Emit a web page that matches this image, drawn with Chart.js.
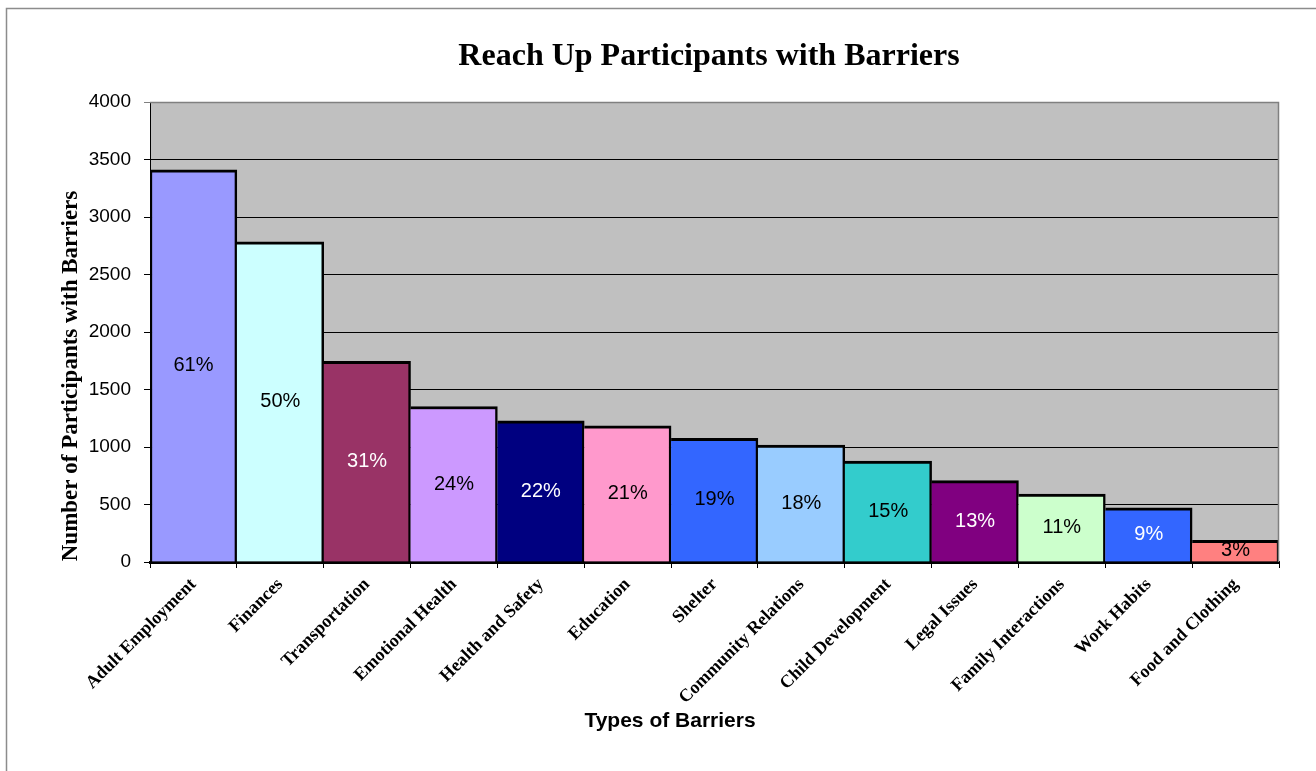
<!DOCTYPE html>
<html>
<head>
<meta charset="utf-8">
<title>Reach Up Participants with Barriers</title>
<script src="https://cdn.jsdelivr.net/npm/chart.js@4/dist/chart.umd.min.js"></script>
<style>
  html, body { margin: 0; padding: 0; background: #ffffff; }
  #wrap { width: 1316px; height: 771px; position: relative; }
</style>
</head>
<body>
<div id="wrap"><canvas id="chart" width="1316" height="771"></canvas></div>
<script>
// Barrier categories and participant counts
const categories = [
  'Adult Employment', 'Finances', 'Transportation', 'Emotional Health',
  'Health and Safety', 'Education', 'Shelter', 'Community Relations',
  'Child Development', 'Legal Issues', 'Family Interactions', 'Work Habits',
  'Food and Clothing'
];
const participants = [3410, 2784, 1746, 1352, 1227, 1184, 1075, 1016, 877, 708, 590, 470, 188];
const percentLabels = ['61%', '50%', '31%', '24%', '22%', '21%', '19%', '18%', '15%', '13%', '11%', '9%', '3%'];
const yTickValues = [0, 500, 1000, 1500, 2000, 2500, 3000, 3500, 4000];

// Bar fills and the label colour used on each
const barColors = ['#9999FF', '#CCFFFF', '#993366', '#CC99FF', '#000080', '#FF99CC',
                   '#3366FF', '#99CCFF', '#33CCCC', '#800080', '#CCFFCC', '#3366FF', '#FF8080'];
const labelColors = ['#000', '#000', '#fff', '#000', '#fff', '#000',
                     '#000', '#000', '#000', '#fff', '#000', '#fff', '#000'];

const titleText = 'Reach Up Participants with Barriers';
const yTitleText = 'Number of Participants with Barriers';
const xTitleText = 'Types of Barriers';

// Page frame, plot background and plot borders
const framePlugin = {
  id: 'frame',
  beforeDraw(chart) {
    const ctx = chart.ctx;
    const a = chart.chartArea;
    ctx.save();
    ctx.fillStyle = '#ffffff';
    ctx.fillRect(0, 0, chart.width, chart.height);
    ctx.strokeStyle = '#8c8c8c';
    ctx.lineWidth = 1.5;
    ctx.strokeRect(6.5, 8.5, chart.width + 50, chart.height + 50);
    ctx.fillStyle = '#C0C0C0';
    ctx.fillRect(a.left, a.top, a.right - a.left, a.bottom - a.top);
    ctx.restore();
  },
  afterDraw(chart) {
    const ctx = chart.ctx;
    const a = chart.chartArea;
    ctx.save();
    // top and right edges of the plot area
    ctx.strokeStyle = '#808080';
    ctx.lineWidth = 1.5;
    ctx.beginPath();
    ctx.moveTo(a.left, a.top + 0.5);
    ctx.lineTo(a.right - 0.5, a.top + 0.5);
    ctx.lineTo(a.right - 0.5, a.bottom);
    ctx.stroke();

    // chart title
    ctx.fillStyle = '#000';
    ctx.textAlign = 'center';
    ctx.textBaseline = 'middle';
    ctx.font = 'bold 32px "Liberation Serif", "Times New Roman", serif';
    ctx.fillText(titleText, 709, 57);

    // y axis title
    ctx.save();
    ctx.translate(71, 376);
    ctx.rotate(-Math.PI / 2);
    ctx.font = 'bold 23px "Liberation Serif", "Times New Roman", serif';
    ctx.fillText(yTitleText, 0, 0);
    ctx.restore();

    // x axis title
    ctx.font = 'bold 21px "Liberation Sans", Arial, sans-serif';
    ctx.fillText(xTitleText, 670, 721);
    ctx.restore();
  }
};

// Percentage labels centred in each bar
const barLabelPlugin = {
  id: 'barLabels',
  afterDatasetsDraw(chart) {
    const ctx = chart.ctx;
    const meta = chart.getDatasetMeta(0);
    ctx.save();
    ctx.font = '20px "Liberation Sans", Arial, sans-serif';
    ctx.textAlign = 'center';
    ctx.textBaseline = 'middle';
    meta.data.forEach((bar, i) => {
      ctx.fillStyle = labelColors[i];
      ctx.fillText(percentLabels[i], bar.x, (bar.y + bar.base) / 2);
    });
    ctx.restore();
  }
};

new Chart(document.getElementById('chart'), {
  type: 'bar',
  data: {
    labels: categories,
    datasets: [{
      data: participants,
      backgroundColor: barColors,
      borderColor: '#000000',
      borderWidth: (c) => ({ top: 3, right: 2.5, bottom: 0, left: c.dataIndex === 0 ? 2.5 : 0 }),
      borderSkipped: false,
      barPercentage: 1,
      categoryPercentage: 1
    }]
  },
  options: {
    responsive: false,
    animation: false,
    devicePixelRatio: 1,
    layout: { padding: { top: 102, right: 37, left: 0, bottom: 0 } },
    plugins: {
      legend: { display: false },
      title: { display: false },
      tooltip: { enabled: false }
    },
    scales: {
      x: {
        type: 'category',
        offset: true,
        afterFit(scale) { scale.height = 209; },
        grid: {
          display: true,
          offset: true,
          drawOnChartArea: false,
          drawTicks: true,
          tickLength: 6,
          color: '#000',
          lineWidth: 1
        },
        border: { display: true, color: '#000', width: 3 },
        ticks: {
          autoSkip: false,
          minRotation: 45,
          maxRotation: 45,
          padding: 6,
          color: '#000',
          font: { family: '"Liberation Serif", "Times New Roman", serif', size: 18, weight: 'bold' }
        }
      },
      y: {
        min: 0,
        max: 4000,
        afterFit(scale) { scale.width = 150; },
        afterBuildTicks(scale) { scale.ticks = yTickValues.map(v => ({ value: v })); },
        grid: {
          color: (c) => (c.tick && c.tick.value === 4000 ? '#808080' : '#000'),
          lineWidth: 1,
          tickLength: 6,
          drawTicks: true
        },
        border: { display: true, color: '#000', width: 1 },
        ticks: {
          padding: 13,
          color: '#000',
          callback: (v) => String(v),
          font: { family: '"Liberation Sans", Arial, sans-serif', size: 19 }
        }
      }
    }
  },
  plugins: [framePlugin, barLabelPlugin]
});
</script>
</body>
</html>
